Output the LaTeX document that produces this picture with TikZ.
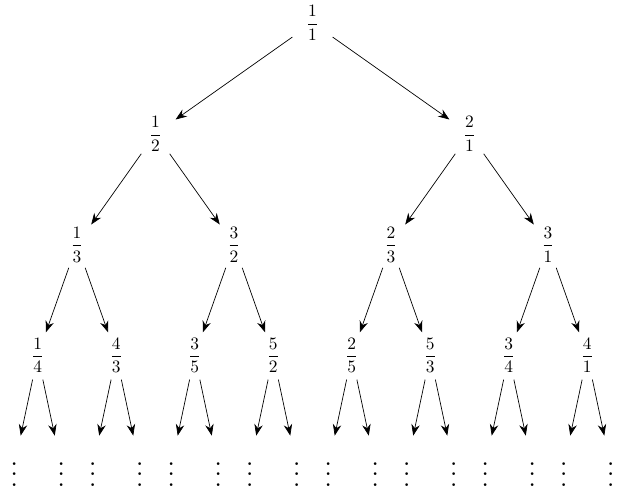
\documentclass[tikz,border=0pt]{standalone}
\usepackage{amsmath}
\usepackage{tikz}
\usetikzlibrary{arrows.meta}
\tikzstyle{fr}= [circle, inner sep=2.5pt]
\tikzstyle{vd}= [circle, scale=1.5]
\begin{document}
\begin{tikzpicture}[x=0.793cm, y=2.24cm, >={Stealth[scale=1.35]}]
				\useasboundingbox (-7.961, 0.206) rectangle (7.961, -4.277);
				\node[fr] (n11) at (0, 0) {$\dfrac{1}{1}$};
				\node[fr] (n12) at (-4, -1) {$\dfrac{1}{2}$};
				\node[fr] (n21) at (4, -1) {$\dfrac{2}{1}$};
				\node[fr] (n13) at (-6, -2) {$\dfrac{1}{3}$};
				\node[fr] (n32) at (-2, -2) {$\dfrac{3}{2}$};
				\node[fr] (n23) at (2, -2) {$\dfrac{2}{3}$};
				\node[fr] (n31) at (6, -2) {$\dfrac{3}{1}$};
				\node[fr] (n14) at (-7, -3) {$\dfrac{1}{4}$};
				\node[fr] (n43) at (-5, -3) {$\dfrac{4}{3}$};
				\node[fr] (n35) at (-3, -3) {$\dfrac{3}{5}$};
				\node[fr] (n52) at (-1, -3) {$\dfrac{5}{2}$};
				\node[fr] (n25) at (1, -3) {$\dfrac{2}{5}$};
				\node[fr] (n53) at (3, -3) {$\dfrac{5}{3}$};
				\node[fr] (n34) at (5, -3) {$\dfrac{3}{4}$};
				\node[fr] (n41) at (7, -3) {$\dfrac{4}{1}$};
				\node[vd] (d1) at (-7.6, -4) {$\vdots$};
				\node[vd] (d2) at (-6.4, -4) {$\vdots$};
				\node[vd] (d3) at (-5.6, -4) {$\vdots$};
				\node[vd] (d4) at (-4.4, -4) {$\vdots$};
				\node[vd] (d5) at (-3.6, -4) {$\vdots$};
				\node[vd] (d6) at (-2.4, -4) {$\vdots$};
				\node[vd] (d7) at (-1.6, -4) {$\vdots$};
				\node[vd] (d8) at (-0.4, -4) {$\vdots$};
				\node[vd] (d9) at (0.4, -4) {$\vdots$};
				\node[vd] (d10) at (1.6, -4) {$\vdots$};
				\node[vd] (d11) at (2.4, -4) {$\vdots$};
				\node[vd] (d12) at (3.6, -4) {$\vdots$};
				\node[vd] (d13) at (4.4, -4) {$\vdots$};
				\node[vd] (d14) at (5.6, -4) {$\vdots$};
				\node[vd] (d15) at (6.4, -4) {$\vdots$};
				\node[vd] (d16) at (7.6, -4) {$\vdots$};
				\draw[->] (n11) -- (n12);
				\draw[->] (n11) -- (n21);
				\draw[->] (n12) -- (n13);
				\draw[->] (n12) -- (n32);
				\draw[->] (n21) -- (n23);
				\draw[->] (n21) -- (n31);
				\draw[->] (n13) -- (n14);
				\draw[->] (n13) -- (n43);
				\draw[->] (n32) -- (n35);
				\draw[->] (n32) -- (n52);
				\draw[->] (n23) -- (n25);
				\draw[->] (n23) -- (n53);
				\draw[->] (n31) -- (n34);
				\draw[->] (n31) -- (n41);
				\draw[->] (n14) -- (d1);
				\draw[->] (n14) -- (d2);
				\draw[->] (n43) -- (d3);
				\draw[->] (n43) -- (d4);
				\draw[->] (n35) -- (d5);
				\draw[->] (n35) -- (d6);
				\draw[->] (n52) -- (d7);
				\draw[->] (n52) -- (d8);
				\draw[->] (n25) -- (d9);
				\draw[->] (n25) -- (d10);
				\draw[->] (n53) -- (d11);
				\draw[->] (n53) -- (d12);
				\draw[->] (n34) -- (d13);
				\draw[->] (n34) -- (d14);
				\draw[->] (n41) -- (d15);
				\draw[->] (n41) -- (d16);
			\end{tikzpicture}
\end{document}
